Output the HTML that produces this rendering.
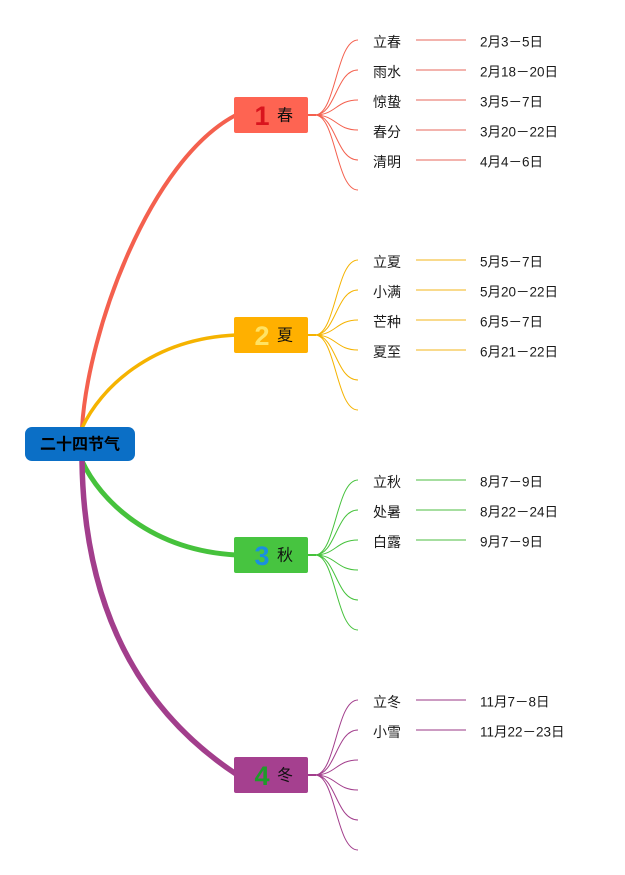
<!DOCTYPE html>
<html>
<head>
<meta charset="utf-8">
<style>
html,body{margin:0;padding:0;background:#fff;}
body{width:625px;height:875px;overflow:hidden;}
svg{display:block;}
.leaf{font-family:"Liberation Sans","Noto Sans CJK SC",sans-serif;font-size:14px;fill:#1a1a1a;}
.date{font-family:"Liberation Sans","Noto Sans CJK SC",sans-serif;font-size:13.5px;fill:#1a1a1a;}
.season{font-family:"Liberation Sans","Noto Sans CJK SC",sans-serif;font-size:16px;fill:#111;}
.num{font-family:"Liberation Sans","DejaVu Sans",sans-serif;font-size:27px;font-weight:bold;}
</style>
</head>
<body>
<svg width="625" height="875" viewBox="0 0 625 875" xmlns="http://www.w3.org/2000/svg">
  <!-- main branches -->
  <path d="M82,440 L82,428 C88,330 150,160 236,115" fill="none" stroke="#f4604e" stroke-width="4"/>
  <path d="M82,440 L82,428 C100,389 150,339 236,335" fill="none" stroke="#f5b300" stroke-width="3.5"/>
  <path d="M82,450 L82,461 C100,500 150,550 236,555" fill="none" stroke="#46c23c" stroke-width="5"/>
  <path d="M82,450 L82,461 Q85,674 236,774" fill="none" stroke="#a23e8c" stroke-width="5.5"/>

  <!-- root -->
  <rect x="25" y="427" width="110" height="34" rx="7" ry="7" fill="#0b6fc6"/>
  <text x="80" y="445" text-anchor="middle" dominant-baseline="central" font-family="'Liberation Sans','Noto Sans CJK SC',sans-serif" font-size="16" font-weight="bold" fill="#000">二十四节气</text>

  <!-- SPRING -->
  <g>
    <line x1="308" y1="115" x2="316" y2="115" stroke="#f4604e" stroke-width="2"/>
    <g fill="none" stroke="#f4604e" stroke-width="1">
      <path d="M315,115 C336,115 336,40 358,40"/>
      <path d="M315,115 C336,115 336,70 358,70"/>
      <path d="M315,115 C336,115 336,100 358,100"/>
      <path d="M315,115 C336,115 336,130 358,130"/>
      <path d="M315,115 C336,115 336,160 358,160"/>
      <path d="M315,115 C336,115 336,190 358,190"/>
    </g>
    <rect x="234" y="97" width="74" height="36" rx="2" fill="#fe6452"/>
    <text class="num" x="262" y="116" text-anchor="middle" dominant-baseline="central" fill="#d9141e">1</text>
    <text class="season" x="285" y="116" text-anchor="middle" dominant-baseline="central">春</text>
    <g stroke="#f3b3ad" stroke-width="2">
      <line x1="416" y1="40" x2="466" y2="40"/>
      <line x1="416" y1="70" x2="466" y2="70"/>
      <line x1="416" y1="100" x2="466" y2="100"/>
      <line x1="416" y1="130" x2="466" y2="130"/>
      <line x1="416" y1="160" x2="466" y2="160"/>
    </g>
    <g dominant-baseline="central">
      <text class="leaf" x="373" y="42">立春</text>
      <text class="leaf" x="373" y="72">雨水</text>
      <text class="leaf" x="373" y="102">惊蛰</text>
      <text class="leaf" x="373" y="132">春分</text>
      <text class="leaf" x="373" y="162">清明</text>
      <text class="date" x="480" y="42">2月3－5日</text>
      <text class="date" x="480" y="72">2月18－20日</text>
      <text class="date" x="480" y="102">3月5－7日</text>
      <text class="date" x="480" y="132">3月20－22日</text>
      <text class="date" x="480" y="162">4月4－6日</text>
    </g>
  </g>

  <!-- SUMMER -->
  <g>
    <line x1="308" y1="335" x2="316" y2="335" stroke="#f5b300" stroke-width="2"/>
    <g fill="none" stroke="#f5b300" stroke-width="1">
      <path d="M315,335 C336,335 336,260 358,260"/>
      <path d="M315,335 C336,335 336,290 358,290"/>
      <path d="M315,335 C336,335 336,320 358,320"/>
      <path d="M315,335 C336,335 336,350 358,350"/>
      <path d="M315,335 C336,335 336,380 358,380"/>
      <path d="M315,335 C336,335 336,410 358,410"/>
    </g>
    <rect x="234" y="317" width="74" height="36" rx="2" fill="#ffb000"/>
    <text class="num" x="262" y="336" text-anchor="middle" dominant-baseline="central" fill="#ffe264">2</text>
    <text class="season" x="285" y="336" text-anchor="middle" dominant-baseline="central">夏</text>
    <g stroke="#f9da8c" stroke-width="2">
      <line x1="416" y1="260" x2="466" y2="260"/>
      <line x1="416" y1="290" x2="466" y2="290"/>
      <line x1="416" y1="320" x2="466" y2="320"/>
      <line x1="416" y1="350" x2="466" y2="350"/>
    </g>
    <g dominant-baseline="central">
      <text class="leaf" x="373" y="262">立夏</text>
      <text class="leaf" x="373" y="292">小满</text>
      <text class="leaf" x="373" y="322">芒种</text>
      <text class="leaf" x="373" y="352">夏至</text>
      <text class="date" x="480" y="262">5月5－7日</text>
      <text class="date" x="480" y="292">5月20－22日</text>
      <text class="date" x="480" y="322">6月5－7日</text>
      <text class="date" x="480" y="352">6月21－22日</text>
    </g>
  </g>

  <!-- AUTUMN -->
  <g>
    <line x1="308" y1="555" x2="316" y2="555" stroke="#46c23c" stroke-width="2"/>
    <g fill="none" stroke="#46c23c" stroke-width="1">
      <path d="M315,555 C336,555 336,480 358,480"/>
      <path d="M315,555 C336,555 336,510 358,510"/>
      <path d="M315,555 C336,555 336,540 358,540"/>
      <path d="M315,555 C336,555 336,570 358,570"/>
      <path d="M315,555 C336,555 336,600 358,600"/>
      <path d="M315,555 C336,555 336,630 358,630"/>
    </g>
    <rect x="234" y="537" width="74" height="36" rx="2" fill="#47c440"/>
    <text class="num" x="262" y="556" text-anchor="middle" dominant-baseline="central" fill="#1a8fe0">3</text>
    <text class="season" x="285" y="556" text-anchor="middle" dominant-baseline="central">秋</text>
    <g stroke="#a6dea0" stroke-width="2">
      <line x1="416" y1="480" x2="466" y2="480"/>
      <line x1="416" y1="510" x2="466" y2="510"/>
      <line x1="416" y1="540" x2="466" y2="540"/>
    </g>
    <g dominant-baseline="central">
      <text class="leaf" x="373" y="482">立秋</text>
      <text class="leaf" x="373" y="512">处暑</text>
      <text class="leaf" x="373" y="542">白露</text>
      <text class="date" x="480" y="482">8月7－9日</text>
      <text class="date" x="480" y="512">8月22－24日</text>
      <text class="date" x="480" y="542">9月7－9日</text>
    </g>
  </g>

  <!-- WINTER -->
  <g>
    <line x1="308" y1="775" x2="316" y2="775" stroke="#a23e8c" stroke-width="2"/>
    <g fill="none" stroke="#a23e8c" stroke-width="1">
      <path d="M315,775 C336,775 336,700 358,700"/>
      <path d="M315,775 C336,775 336,730 358,730"/>
      <path d="M315,775 C336,775 336,760 358,760"/>
      <path d="M315,775 C336,775 336,790 358,790"/>
      <path d="M315,775 C336,775 336,820 358,820"/>
      <path d="M315,775 C336,775 336,850 358,850"/>
    </g>
    <rect x="234" y="757" width="74" height="36" rx="2" fill="#a5408f"/>
    <text class="num" x="262" y="776" text-anchor="middle" dominant-baseline="central" fill="#1f9a2a">4</text>
    <text class="season" x="285" y="776" text-anchor="middle" dominant-baseline="central">冬</text>
    <g stroke="#cc9bc2" stroke-width="2">
      <line x1="416" y1="700" x2="466" y2="700"/>
      <line x1="416" y1="730" x2="466" y2="730"/>
    </g>
    <g dominant-baseline="central">
      <text class="leaf" x="373" y="702">立冬</text>
      <text class="leaf" x="373" y="732">小雪</text>
      <text class="date" x="480" y="702">11月7－8日</text>
      <text class="date" x="480" y="732">11月22－23日</text>
    </g>
  </g>
</svg>
</body>
</html>
